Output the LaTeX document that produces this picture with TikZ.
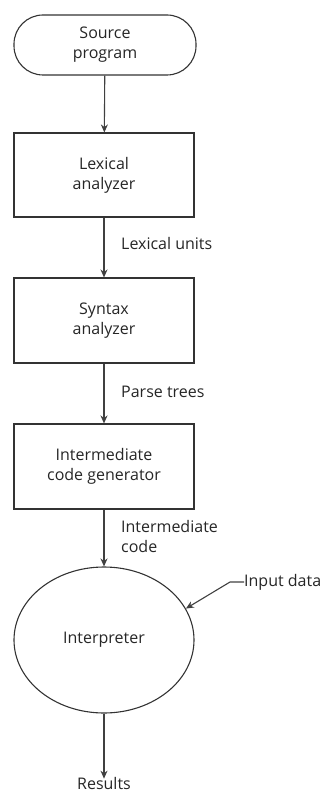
\documentclass[tikz,border=0pt]{standalone}
\usepackage{fontspec}
\setmainfont{Open Sans}
\usetikzlibrary{shapes.geometric,arrows.meta}
\begin{document}
\begin{tikzpicture}[x=1pt,y=-1pt,
  every node/.style={font=\fontsize{16}{20}\selectfont, text=black!85},
  box/.style={draw=black!80, line width=1.1pt, minimum width=180pt, align=center, inner sep=0pt},
  flow/.style={draw=black!75, line width=1.1pt, -{Stealth[length=8pt,width=7pt]}},
  lbl/.style={anchor=west, align=left, inner sep=0pt}]
\useasboundingbox (0,0) rectangle (336,794);
\node[box, rounded corners=29pt, minimum width=182pt, minimum height=60pt] (src) at (105,45) {Source\\program};
\node[box, minimum height=84pt] (lex) at (104,175) {Lexical\\analyzer};
\node[box, minimum height=85pt] (syn) at (104,320.5) {Syntax\\analyzer};
\node[box, minimum height=85pt] (icg) at (104,466.5) {Intermediate\\code generator};
\node[draw=black!80, line width=1.1pt, ellipse, minimum width=180pt, minimum height=146pt, inner sep=0pt] (interp) at (104,640) {Interpreter};
\node[inner sep=0pt] (res) at (104,783) {Results};
\node[lbl] (inp) at (244,582) {Input data};
\node[lbl] (l1) at (121,243) {Lexical units};
\node[lbl] (l2) at (121,392) {Parse trees};
\node[lbl] (l3) at (121,536) {Intermediate\\code};
\draw[flow] (src) -- (lex);
\draw[flow] (lex) -- (syn);
\draw[flow] (syn) -- (icg);
\draw[flow] (icg) -- (interp);
\draw[flow] (interp) -- ([yshift=-2pt]res.north);
\draw[flow] (inp.west) -- ++(-14,0) -- (interp.21);
\end{tikzpicture}
\end{document}
